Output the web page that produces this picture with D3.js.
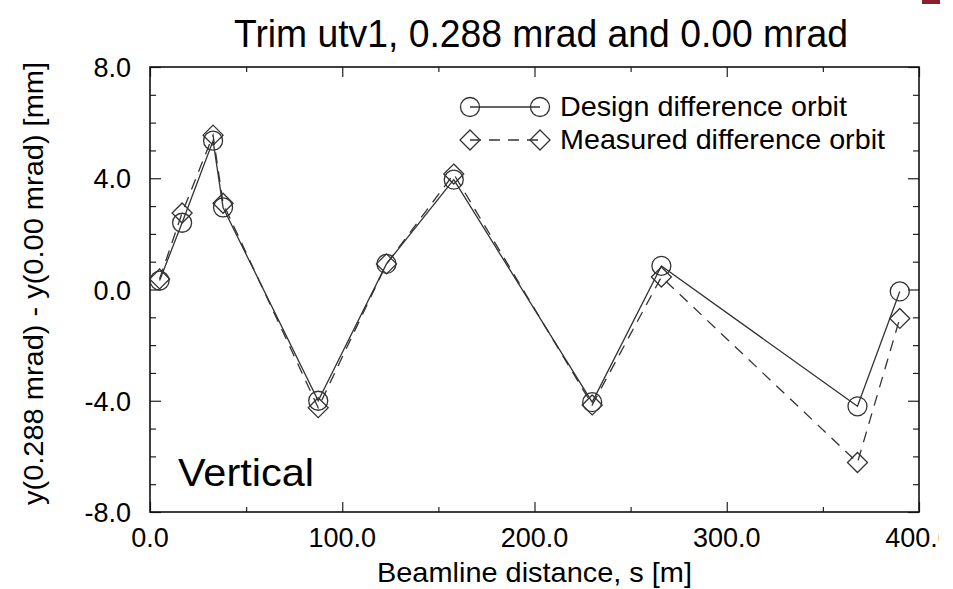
<!DOCTYPE html>
<html>
<head>
<meta charset="utf-8">
<script src="https://cdn.jsdelivr.net/npm/d3@7"></script>
<style>
  body { margin: 0; background: #fff; }
  text { font-family: "Liberation Sans", Arial, Helvetica, sans-serif; fill: #000; }
</style>
</head>
<body>
<svg id="chart" width="953" height="589"></svg>
<script>
/**
 * Trim utv1 difference orbit, design vs measured
 */

// beamline positions [m]
var s_pos = [5, 16.7, 32.8, 38, 87.5, 123, 158, 230, 266, 368, 390];
// design difference orbit [mm]
var design = [0.32, 2.4, 5.35, 2.95, -4.0, 0.92, 3.95, -4.05, 0.85, -4.2, -0.07];
// measured difference orbit [mm]
var measured = [0.38, 2.75, 5.55, 3.1, -4.25, 0.92, 4.15, -4.15, 0.45, -6.22, -1.04];

var x_ticks = [0, 100, 200, 300, 400],
    y_ticks = [-8, -4, 0, 4, 8];

var title = "Trim utv1, 0.288 mrad and 0.00 mrad",
    x_title = "Beamline distance, s [m]",
    y_title = "y(0.288 mrad) - y(0.00 mrad) [mm]",
    series_names = ["Design difference orbit", "Measured difference orbit"];

var svg = d3.select("#chart");

var box = {left: 150, right: 919, top: 67, bottom: 512};

var scales = {
  "x": d3.scaleLinear().domain([0, 400]).range([box.left, box.right]),
  "y": d3.scaleLinear().domain([-8, 8]).range([box.bottom, box.top])
};

var ink = "#333";

// the slide picture is cropped a little before the right edge
svg.append("clipPath").attr("id", "crop")
  .append("rect").attr("x", 0).attr("y", 0).attr("width", 939).attr("height", 589);

// small red mark in the corner of the slide
svg.append("rect")
  .attr("x", 922).attr("y", 0).attr("width", 18).attr("height", 4)
  .attr("fill", "#8c1d2c");

svg.append("text")
  .attr("x", 234).attr("y", 47)
  .attr("font-size", 38)
  .attr("textLength", 614)
  .attr("lengthAdjust", "spacingAndGlyphs")
  .text(title);

// axes, ticks on all four sides pointing inwards
function tickFmt(d) { return d3.format(".1f")(d).replace("\u2212", "-"); }

var xb = d3.axisBottom(scales.x).tickValues(d3.range(0, 401, 50))
  .tickSizeInner(-5).tickSizeOuter(0).tickFormat("");
var xt = d3.axisTop(scales.x).tickValues(d3.range(0, 401, 50))
  .tickSizeInner(-5).tickSizeOuter(0).tickFormat("");
var yl = d3.axisLeft(scales.y).tickValues(d3.range(-8, 9, 1))
  .tickSizeInner(-6).tickSizeOuter(0).tickFormat("");
var yr = d3.axisRight(scales.y).tickValues(d3.range(-8, 9, 1))
  .tickSizeInner(-6).tickSizeOuter(0).tickFormat("");

var gx = svg.append("g").attr("transform", "translate(0," + box.bottom + ")").call(xb);
var gxt = svg.append("g").attr("transform", "translate(0," + box.top + ")").call(xt);
var gy = svg.append("g").attr("transform", "translate(" + box.left + ",0)").call(yl);
var gyr = svg.append("g").attr("transform", "translate(" + box.right + ",0)").call(yr);

// longer major ticks
[gx, gxt].forEach(function(g) {
  g.selectAll(".tick line")
    .filter(function(d) { return x_ticks.indexOf(d) >= 0; })
    .attr("y2", g === gx ? -10 : 10);
});
[gy, gyr].forEach(function(g) {
  g.selectAll(".tick line")
    .filter(function(d) { return y_ticks.indexOf(d) >= 0; })
    .attr("x2", g === gy ? 11 : -11);
});
svg.selectAll(".domain").remove();
svg.selectAll(".tick line").attr("stroke", "#222").attr("stroke-width", 1.2);

svg.append("rect")
  .attr("x", box.left).attr("y", box.top)
  .attr("width", box.right - box.left).attr("height", box.bottom - box.top)
  .attr("fill", "none").attr("stroke", "#111").attr("stroke-width", 1.6);

// tick labels
svg.append("g").attr("clip-path", "url(#crop)")
  .selectAll("text")
  .data(x_ticks).enter()
  .append("text")
  .attr("x", (d) => scales.x(d))
  .attr("y", 547)
  .attr("text-anchor", "middle")
  .attr("font-size", 27)
  .text(tickFmt);

svg.append("g").selectAll("text")
  .data(y_ticks).enter()
  .append("text")
  .attr("x", 131)
  .attr("y", (d) => scales.y(d) + 10)
  .attr("text-anchor", "end")
  .attr("font-size", 27)
  .text(tickFmt);

svg.append("text")
  .attr("x", 377).attr("y", 582)
  .attr("font-size", 28)
  .attr("textLength", 315)
  .attr("lengthAdjust", "spacingAndGlyphs")
  .text(x_title);

svg.append("text")
  .attr("transform", "translate(43,505) rotate(-90)")
  .attr("font-size", 27)
  .attr("textLength", 443)
  .attr("lengthAdjust", "spacingAndGlyphs")
  .text(y_title);

svg.append("text")
  .attr("x", 178).attr("y", 486)
  .attr("font-size", 39)
  .attr("textLength", 136)
  .attr("lengthAdjust", "spacingAndGlyphs")
  .text("Vertical");

// series
var line = d3.line()
  .x((d) => scales.x(d[0]))
  .y((d) => scales.y(d[1]));

var meas_pts = s_pos.map((s, i) => [s, measured[i]]),
    des_pts = s_pos.map((s, i) => [s, design[i]]);

var diamond = "M0,-10L10,0L0,10L-10,0Z";

svg.append("path")
  .datum(meas_pts)
  .attr("d", line)
  .attr("fill", "none")
  .attr("stroke", ink)
  .attr("stroke-width", 1.3)
  .attr("stroke-dasharray", "11,8");

svg.append("path")
  .datum(des_pts)
  .attr("d", line)
  .attr("fill", "none")
  .attr("stroke", ink)
  .attr("stroke-width", 1.3);

svg.append("g").selectAll("path")
  .data(meas_pts).enter()
  .append("path")
  .attr("d", diamond)
  .attr("transform", (d) => "translate(" + scales.x(d[0]) + "," + scales.y(d[1]) + ")")
  .attr("fill", "none")
  .attr("stroke", ink)
  .attr("stroke-width", 1.3);

svg.append("g").selectAll("circle")
  .data(des_pts).enter()
  .append("circle")
  .attr("cx", (d) => scales.x(d[0]))
  .attr("cy", (d) => scales.y(d[1]))
  .attr("r", 9.5)
  .attr("fill", "none")
  .attr("stroke", ink)
  .attr("stroke-width", 1.3);

// legend
var leg = svg.append("g");
var rows = [
  {name: series_names[0], y: 107, dash: null, mark: "circle", w: 287},
  {name: series_names[1], y: 140, dash: "11,8", mark: "diamond", w: 325}
];
rows.forEach(function(r) {
  leg.append("line")
    .attr("x1", 470).attr("x2", 540)
    .attr("y1", r.y).attr("y2", r.y)
    .attr("stroke", ink).attr("stroke-width", 1.3)
    .attr("stroke-dasharray", r.dash);
  [470, 540].forEach(function(cx) {
    if (r.mark === "circle") {
      leg.append("circle")
        .attr("cx", cx).attr("cy", r.y).attr("r", 9.5)
        .attr("fill", "none")
        .attr("stroke", ink).attr("stroke-width", 1.3);
    } else {
      leg.append("path")
        .attr("d", diamond)
        .attr("transform", "translate(" + cx + "," + r.y + ")")
        .attr("fill", "none")
        .attr("stroke", ink).attr("stroke-width", 1.3);
    }
  });
  leg.append("text")
    .attr("x", 560).attr("y", r.y + 9)
    .attr("font-size", 28)
    .attr("textLength", r.w)
    .attr("lengthAdjust", "spacingAndGlyphs")
    .text(r.name);
});
</script>
</body>
</html>
